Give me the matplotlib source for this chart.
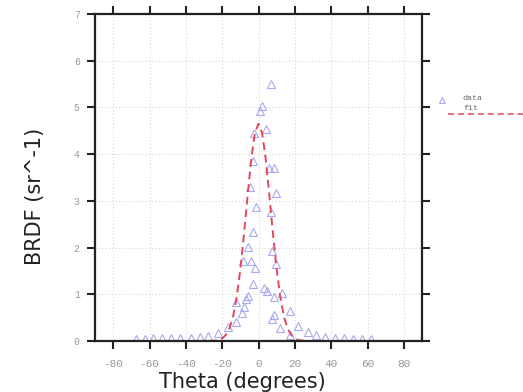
import matplotlib
matplotlib.use("Agg")
import matplotlib.pyplot as plt
from matplotlib.lines import Line2D

# Measured BRDF samples
theta_data = [
    6.7, 2.2, 1.0, 4.0, -2.4, -3.0, 5.6, 8.3, -4.9, 9.4,
    -1.4, 6.7, -3.3, -5.9, 7.4, -8.7, -4.0, -2.0, 9.4, -3.3,
    3.3, 4.7, 8.7, 13.2, -5.9, -6.8, -12.3, -7.8, -9.3, 17.6,
    8.5, 7.6, -12.4, 12.1, 22.0, -16.8, 17.2, 27.3, -22.2, -27.7,
    31.8, -32.0, 36.8,
    -67.3, -62.7, -57.8, -52.9, -47.9, -43.0, -37.0,
    42.0, 47.0, 51.9, 56.8, 61.9,
]
brdf_data = [
    5.50, 5.04, 4.93, 4.53, 4.45, 3.86, 3.70, 3.70, 3.30, 3.17,
    2.86, 2.77, 2.33, 2.01, 1.93, 1.71, 1.72, 1.57, 1.64, 1.23,
    1.13, 1.08, 0.95, 1.02, 0.96, 0.89, 0.83, 0.72, 0.60, 0.64,
    0.56, 0.48, 0.41, 0.28, 0.33, 0.29, 0.13, 0.19, 0.18, 0.11,
    0.12, 0.08, 0.08,
    0.05, 0.05, 0.06, 0.06, 0.06, 0.07, 0.07,
    0.06, 0.06, 0.05, 0.05, 0.04,
]

# Fitted curve
theta_fit = [-90, -30, -26, -24, -22, -20, -18, -16, -14, -12, -10, -8, -6, -4, -2,
             0, 2, 4, 6, 8, 10, 12, 14, 16, 18, 20, 22, 24, 26, 30, 90]
brdf_fit = [0.0, 0.0, 0.003, 0.008, 0.021, 0.054, 0.13, 0.27, 0.52, 0.94, 1.53, 2.28,
            3.11, 3.89, 4.45, 4.65, 4.45, 3.89, 3.11, 2.28, 1.53, 0.94, 0.52, 0.27,
            0.13, 0.054, 0.021, 0.008, 0.003, 0.0, 0.0]

x_ticks = [-80, -60, -40, -20, 0, 20, 40, 60, 80]
x_tick_labels = ["-80", "-60", "-40", "-20", "0", "20", "40", "60", "80"]
y_ticks = [0, 1, 2, 3, 4, 5, 6, 7]
y_tick_labels = ["0", "1", "2", "3", "4", "5", "6", "7"]

W, H = 523, 392
fig = plt.figure(figsize=(W / 100, H / 100), dpi=100)
ax = fig.add_axes([95 / W, 1 - 341 / H, (422 - 95) / W, (341 - 14) / H])

marker_color = "#a9a9f0"
fit_color = "#e2485a"

ax.plot(theta_data, brdf_data, linestyle="none", marker="^", markersize=5.5,
        markerfacecolor="none", markeredgecolor=marker_color, markeredgewidth=0.8)
ax.plot(theta_fit, brdf_fit, linestyle=(0, (4, 2.5)), color=fit_color, linewidth=1.4)

ax.set_xlim(-90, 90)
ax.set_ylim(0, 7)
ax.set_xticks(x_ticks)
ax.set_xticklabels(x_tick_labels)
ax.set_yticks(y_ticks)
ax.set_yticklabels(y_tick_labels)

ax.grid(True, linestyle=(0, (1, 2)), color="#d6d6d6", linewidth=0.8)
ax.set_axisbelow(True)

for s in ax.spines.values():
    s.set_linewidth(1.6)
    s.set_color("#222222")

ax.tick_params(direction="out", length=6, width=1.5, color="#222222",
               top=True, right=True, labeltop=False, labelright=False,
               labelsize=8, labelcolor="#999999")
ax.tick_params(axis="y", labelsize=7)
ax.tick_params(axis="x", pad=7)
ax.tick_params(axis="y", pad=5)
for lab in ax.get_xticklabels() + ax.get_yticklabels():
    lab.set_family("Liberation Mono")

fig.text(242 / W, 1 - 382 / H, "Theta (degrees)", ha="center", va="center",
         fontsize=15, family="DejaVu Sans", color="#222222")
fig.text(35 / W, 1 - 196 / H, "BRDF (sr^-1)", ha="center", va="center",
         rotation=90, fontsize=15, family="DejaVu Sans", color="#222222")

# Legend entries drawn outside the plotting area
fig.add_artist(Line2D([442 / W], [1 - 100 / H], transform=fig.transFigure,
                      linestyle="none", marker="^", markersize=5,
                      markerfacecolor="none", markeredgecolor=marker_color,
                      markeredgewidth=0.8))
fig.text(462 / W, 1 - 98.5 / H, "data", ha="left", va="center", fontsize=6,
         family="Liberation Mono", color="#666666")
fig.text(463 / W, 1 - 108.5 / H, "fit", ha="left", va="center", fontsize=6,
         family="Liberation Mono", color="#666666")
fig.add_artist(Line2D([448 / W, 1.0], [1 - 114 / H, 1 - 114 / H],
                      transform=fig.transFigure, linestyle=(0, (4, 2.5)),
                      color=fit_color, linewidth=1.1))

fig.savefig("out.png", dpi=100)
